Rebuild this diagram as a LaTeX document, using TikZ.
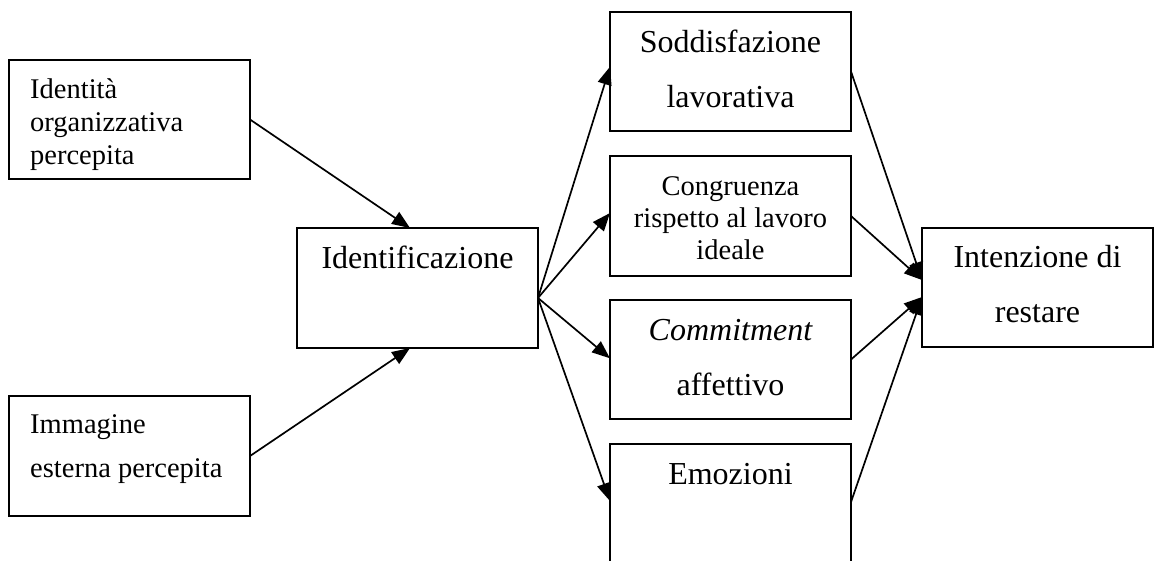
\documentclass[tikz,border=0pt]{standalone}
\usepackage{fontspec}
\setmainfont{Liberation Serif}
\usetikzlibrary{arrows.meta,calc}
\tikzset{
  box/.style={draw, line width=2pt, inner sep=0pt, outer sep=0pt, minimum width=241pt},
  big/.style={inner sep=0pt, anchor=base, font=\fontsize{32}{38}\selectfont},
  small/.style={inner sep=0pt, anchor=base, font=\fontsize{28.5}{33}\selectfont},
  smallleft/.style={small, anchor=base west},
  conn/.style={line width=1.7pt, -{Triangle[length=18pt,width=14pt]}}
}
\begin{document}
\begin{tikzpicture}[x=1pt,y=-1pt]
\clip (0,0) rectangle (1155,560);
\fill[white] (0,0) rectangle (1155,560);
% boxes
\node[box, minimum height=119pt] (idorg) at (129.5,119.5) {};
\node[box, minimum height=120pt] (imm) at (129.5,456) {};
\node[box, minimum height=120pt] (ident) at (417.5,288) {};
\node[box, minimum height=119pt] (sodd) at (730.5,71.5) {};
\node[box, minimum height=120pt] (cong) at (730.5,216) {};
\node[box, minimum height=119pt] (comm) at (730.5,359.5) {};
\node[box, minimum height=122pt] (emo) at (730.5,505) {};
\node[box, minimum width=231pt, minimum height=119pt] (inten) at (1037.5,287.5) {};
% texts
\node[smallleft] (t1a) at (30,98) {Identità};
\node[smallleft] (t1b) at (30,131) {organizzativa};
\node[smallleft] (t1c) at (30,164) {percepita};
\node[smallleft] (t2a) at (30,433) {Immagine};
\node[smallleft] (t2b) at (30,477) {esterna percepita};
\node[big] (t3) at (417.5,268) {Identificazione};
\node[big] (t4a) at (730.5,52) {Soddisfazione};
\node[big] (t4b) at (730.5,107) {lavorativa};
\node[small] (t5a) at (730.5,195) {Congruenza};
\node[small] (t5b) at (730.5,227) {rispetto al lavoro};
\node[small] (t5c) at (730.5,259) {ideale};
\node[big] (t6a) at (730.5,340) {\itshape Commitment};
\node[big] (t6b) at (730.5,395) {affettivo};
\node[big] (t7) at (730.5,484) {Emozioni};
\node[big] (t8a) at (1037.5,267) {Intenzione di};
\node[big] (t8b) at (1037.5,322) {restare};
% connectors
\coordinate (identtop) at ($(ident.north west)!0.469!(ident.north east)$);
\coordinate (identbot) at ($(ident.south west)!0.469!(ident.south east)$);
\coordinate (identout) at ($(ident.north east)!0.583!(ident.south east)$);
\coordinate (soddin) at ($(sodd.north west)!0.46!(sodd.south west)$);
\coordinate (congin) at ($(cong.north west)!0.475!(cong.south west)$);
\coordinate (commin) at ($(comm.north west)!0.49!(comm.south west)$);
\coordinate (emoin) at ($(emo.north west)+(0,57)$);
\coordinate (emoout) at ($(emo.north east)+(0,58)$);
\coordinate (inA) at ($(inten.north west)!0.437!(inten.south west)$);
\coordinate (inB) at ($(inten.north west)!0.58!(inten.south west)$);
\draw[conn] (idorg.east) -- (identtop);
\draw[conn] (imm.east) -- (identbot);
\draw[conn] (identout) -- (soddin);
\draw[conn] (identout) -- (congin);
\draw[conn] (identout) -- (commin);
\draw[conn] (identout) -- (emoin);
\draw[conn] (sodd.east) -- (inA);
\draw[conn] (cong.east) -- (inA);
\draw[conn] (comm.east) -- (inB);
\draw[conn] (emoout) -- (inB);
\end{tikzpicture}
\end{document}
